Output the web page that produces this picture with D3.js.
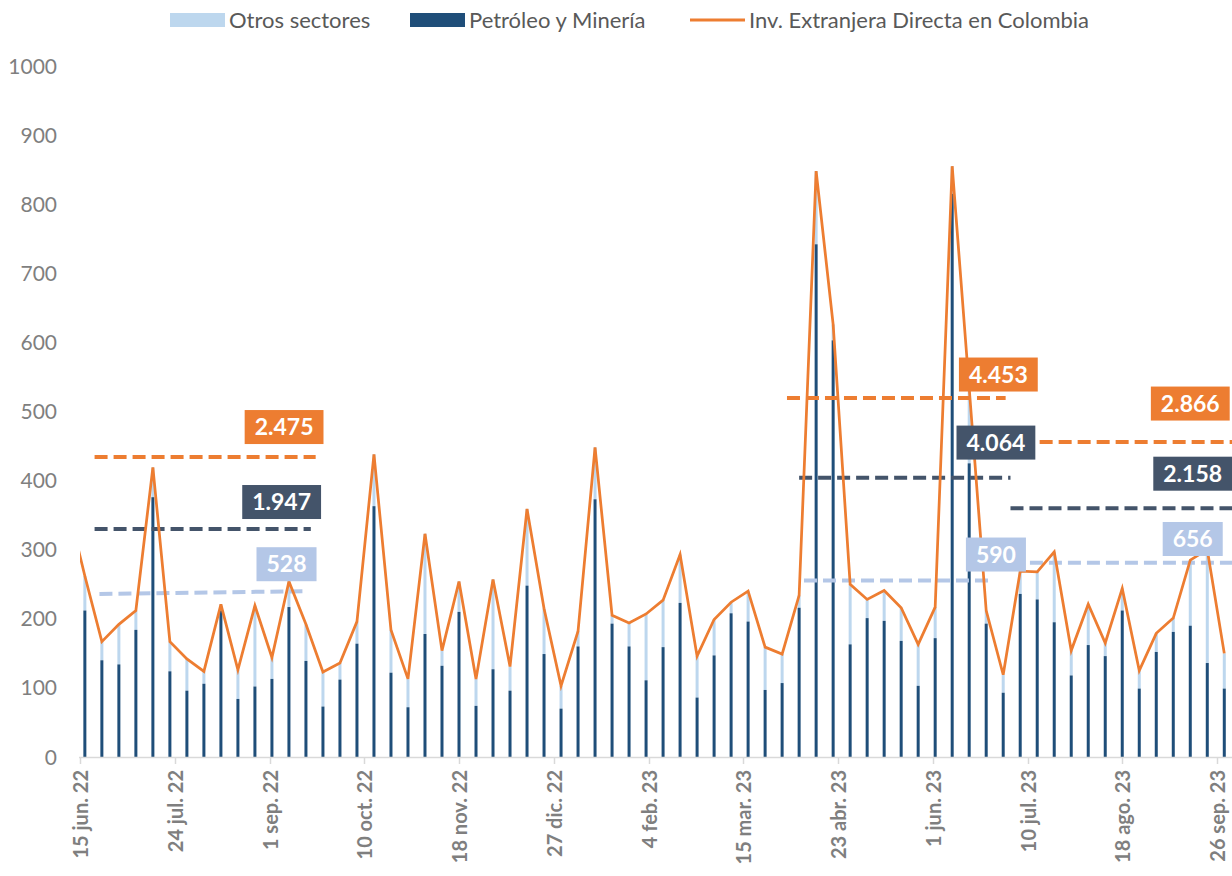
<!DOCTYPE html>
<html><head><meta charset="utf-8">
<script src="https://cdn.jsdelivr.net/npm/d3@7"></script>
<style>
body{margin:0;background:#fff}
svg{display:block}
text{font-family:Lato,'Open Sans',sans-serif}
</style>
</head><body>
<svg id="c" width="1232" height="876"></svg>
<script>
// ---------- DATA ----------
const weeks = [
"2022-06-17","2022-06-24","2022-07-01","2022-07-08","2022-07-15","2022-07-22","2022-07-29","2022-08-05",
"2022-08-12","2022-08-19","2022-08-26","2022-09-02","2022-09-09","2022-09-16","2022-09-23","2022-09-30",
"2022-10-07","2022-10-14","2022-10-21","2022-10-28","2022-11-04","2022-11-11","2022-11-18","2022-11-25",
"2022-12-02","2022-12-09","2022-12-16","2022-12-23","2022-12-30","2023-01-06","2023-01-13","2023-01-20",
"2023-01-27","2023-02-03","2023-02-10","2023-02-17","2023-02-24","2023-03-03","2023-03-10","2023-03-17",
"2023-03-24","2023-03-31","2023-04-07","2023-04-14","2023-04-21","2023-04-28","2023-05-05","2023-05-12",
"2023-05-19","2023-05-26","2023-06-02","2023-06-09","2023-06-16","2023-06-23","2023-06-30","2023-07-07",
"2023-07-14","2023-07-21","2023-07-28","2023-08-04","2023-08-11","2023-08-18","2023-08-25","2023-09-01",
"2023-09-08","2023-09-15","2023-09-22","2023-09-29"];

const petroleo = [
212,140,134,184,376,124,96,106,212,84,102,113,217,139,73,112,
164,363,122,72,178,132,210,74,127,96,248,149,70,160,373,193,
160,111,159,223,86,147,208,196,97,107,216,742,603,163,201,197,
168,103,172,815,425,193,93,236,228,195,118,162,146,212,99,152,
181,190,136,99];

const otros = [
50,27,58,28,43,43,46,18,9,42,117,31,37,53,50,24,
32,75,62,41,145,22,44,39,130,35,111,66,33,22,75,12,
34,96,68,70,60,52,16,44,62,42,18,106,23,87,27,44,
48,60,45,40,109,19,26,33,40,102,36,59,19,32,26,27,
20,95,164,51];

// week before the first bar (only its line segment is visible, clipped at the axis start)
const iedPreviousWeek = {date: "2022-06-10", value: 363};

const tickDates = ["2022-06-15","2022-07-24","2022-09-01","2022-10-10","2022-11-18","2022-12-27",
"2023-02-04","2023-03-15","2023-04-23","2023-06-01","2023-07-10","2023-08-18","2023-09-26"];
const tickLabels = ["15 jun. 22","24 jul. 22","1 sep. 22","10 oct. 22","18 nov. 22","27 dic. 22",
"4 feb. 23","15 mar. 23","23 abr. 23","1 jun. 23","10 jul. 23","18 ago. 23","26 sep. 23"];
const yTicks = [0,100,200,300,400,500,600,700,800,900,1000];

const seriesNames = ["Otros sectores","Petróleo y Minería","Inv. Extranjera Directa en Colombia"];

// reference (dashed) levels: series, start, end, level at start, level at end
const refSeries = ["ied","petro","otros","ied","petro","otros","ied","petro","otros"];
const refStart  = ["2022-06-21","2022-06-21","2022-06-23","2023-04-02","2023-04-07","2023-04-09","2023-07-15","2023-07-03","2023-07-11"];
const refEnd    = ["2022-09-20","2022-09-18","2022-09-16","2023-07-01","2023-07-03","2023-06-26","2023-10-10","2023-10-10","2023-10-10"];
const refFrom   = [434,330,236,519.5,404,255.5,456,360,281];
const refTo     = [434,330,240,519.5,404,255.5,456,360,281];
// labels attached to those levels
const refLabelText  = ["2.475","1.947","528","4.453","4.064","590","2.866","2.158","656"];
const refLabelDate  = ["2022-09-07","2022-09-06","2022-09-08","2023-06-28","2023-06-27","2023-06-27","2023-09-15","2023-09-16","2023-09-16"];
const refLabelValue = [477.5,369,279,553.5,455,293,511.5,410,315.5];

// ---------- STYLE ----------
const C = {
  otros:"#BDD7EE", petro:"#1F4E79", ied:"#ED7D31",
  ref:{ied:"#ED7D31", petro:"#44546A", otros:"#B4C7E7"},
  axis:"#D9D9D9", label:"#7F7F7F", legend:"#595959"
};

const parse = d3.utcParse("%Y-%m-%d");
const svg = d3.select("#c");
const W = 1232, H = 876;
const x = d3.scaleUtc().domain([parse("2022-06-15"), parse("2023-09-26")]).range([80, 1217]);
const y = d3.scaleLinear().domain([0, 1000]).range([757, 66]);

svg.append("defs").append("clipPath").attr("id","plotclip")
  .append("rect").attr("x",80).attr("y",0).attr("width",W-80).attr("height",760);

// y labels
svg.append("g").selectAll("text").data(yTicks).join("text")
  .attr("x",57).attr("y",d=>y(d)).attr("dy","0.36em")
  .attr("text-anchor","end").attr("font-size",21).attr("fill",C.label)
  .text(d=>d);

// bars
const data = weeks.map((w,i)=>({date:parse(w), petro:petroleo[i], otros:otros[i]}));
const bw = 3;
const gb = svg.append("g");
gb.selectAll("rect.o").data(data).join("rect").attr("class","o")
  .attr("x",d=>x(d.date)-bw/2).attr("width",bw)
  .attr("y",d=>y(d.petro+d.otros)).attr("height",d=>y(d.petro)-y(d.petro+d.otros))
  .attr("fill",C.otros);
gb.selectAll("rect.p").data(data).join("rect").attr("class","p")
  .attr("x",d=>x(d.date)-bw/2).attr("width",bw)
  .attr("y",d=>y(d.petro)).attr("height",d=>y(0)-y(d.petro))
  .attr("fill",C.petro);

// x axis
const axisG = svg.append("g");
axisG.append("line").attr("x1",79).attr("x2",W).attr("y1",757.5).attr("y2",757.5)
  .attr("stroke",C.axis).attr("stroke-width",1.5);
const td = tickDates.map(parse);
axisG.selectAll("line.t").data(td).join("line").attr("class","t")
  .attr("x1",d=>Math.round(x(d))+0.5).attr("x2",d=>Math.round(x(d))+0.5)
  .attr("y1",757).attr("y2",764).attr("stroke",C.axis).attr("stroke-width",1.5);
axisG.selectAll("text").data(td).join("text")
  .attr("transform",d=>`translate(${x(d)+1},770) rotate(-90)`)
  .attr("dy","0.36em").attr("text-anchor","end")
  .attr("font-size",20).attr("font-weight","bold").attr("fill",C.label)
  .text((d,i)=>tickLabels[i]);

// reference dashed lines
const gr = svg.append("g").attr("clip-path","url(#plotclip)");
refSeries.forEach((s,i)=>{
  gr.append("line")
    .attr("x1",x(parse(refStart[i]))).attr("x2",x(parse(refEnd[i])))
    .attr("y1",y(refFrom[i])).attr("y2",y(refTo[i]))
    .attr("stroke",C.ref[s]).attr("stroke-width",4).attr("stroke-dasharray","13,6");
});

// IED line
const lineData = [{date:parse(iedPreviousWeek.date), v:iedPreviousWeek.value}]
  .concat(data.map(d=>({date:d.date, v:d.petro+d.otros})));
svg.append("path").datum(lineData).attr("clip-path","url(#plotclip)")
  .attr("fill","none").attr("stroke",C.ied).attr("stroke-width",2.75)
  .attr("stroke-linejoin","miter")
  .attr("d", d3.line().x(d=>x(d.date)).y(d=>y(d.v)));

// labels
const gl = svg.append("g");
refLabelText.forEach((t,i)=>{
  const cx = x(parse(refLabelDate[i])), cy = y(refLabelValue[i]);
  const g = gl.append("g");
  const rect = g.append("rect").attr("fill",C.ref[refSeries[i]]);
  const txt = g.append("text").attr("x",cx).attr("y",cy).attr("dy","0.36em")
    .attr("text-anchor","middle").attr("font-size",23).attr("font-weight","bold")
    .attr("fill","#fff").text(t);
  const w = txt.node().getComputedTextLength() + 20, h = 34;
  rect.attr("x",cx-w/2).attr("y",cy-h/2).attr("width",w).attr("height",h);
});

// legend
const lg = svg.append("g").attr("font-size",22).attr("fill",C.legend);
const legX = [170,410,690];
lg.append("rect").attr("x",legX[0]).attr("y",13).attr("width",55).attr("height",14).attr("fill",C.otros);
lg.append("rect").attr("x",legX[1]).attr("y",13).attr("width",55).attr("height",14).attr("fill",C.petro);
lg.append("line").attr("x1",legX[2]).attr("x2",legX[2]+55).attr("y1",20).attr("y2",20)
  .attr("stroke",C.ied).attr("stroke-width",3);
seriesNames.forEach((n,i)=>{
  lg.append("text").attr("x",legX[i]+59).attr("y",20).attr("dy","0.36em").text(n);
});
</script>
</body></html>
